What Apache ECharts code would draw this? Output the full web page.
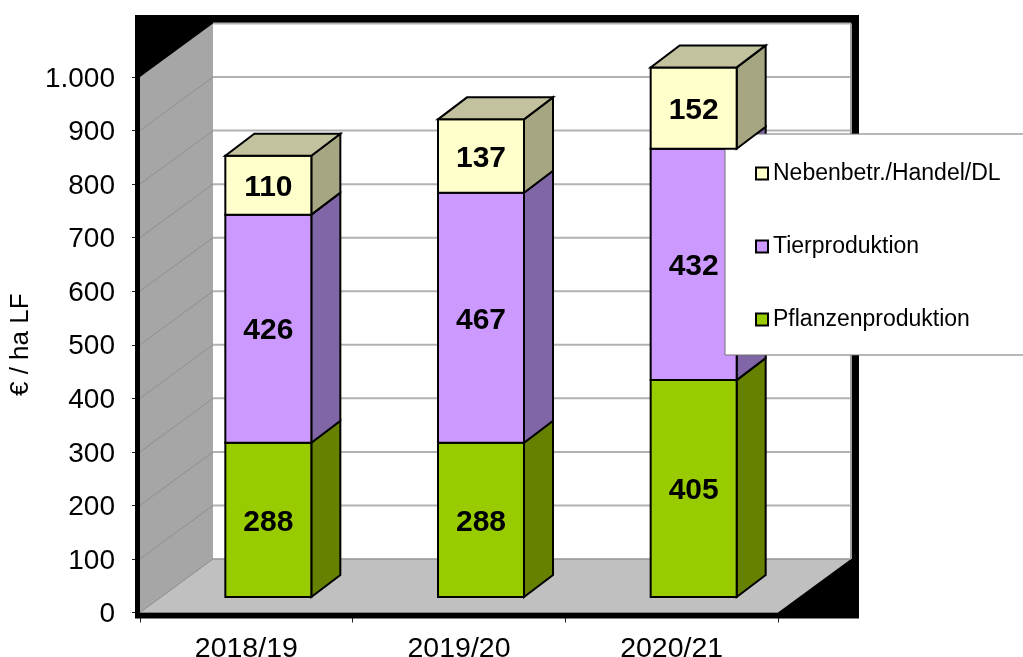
<!DOCTYPE html>
<html lang="de">
<head>
<meta charset="UTF-8">
<title>Umsatz je ha LF</title>
<script src="https://cdn.jsdelivr.net/npm/echarts@6/dist/echarts.min.js"></script>
<style>
    html, body { margin: 0; padding: 0; background: #fff; overflow: hidden; }
    #chart { width: 1023px; height: 657px; }
</style>
</head>
<body>
<div id="chart"></div>
<script type="text/javascript">
    let years = ['2018/19', '2019/20', '2020/21'];
    let pflanzen = [288, 288, 405];
    let tier = [426, 467, 432];
    let neben = [110, 137, 152];
    let yTicks = [100, 200, 300, 400, 500, 600, 700, 800, 900, 1000];

    let font = '"Liberation Sans", Arial, sans-serif';
    // Tiefe der 3D-Wand und der Saeulen in Pixeln
    let wallDx = 73, wallDy = -53.5;
    let barShiftX = 22, barShiftY = -15.5, barDx = 29, barDy = -22, barW = 86;

    function poly(points, fill, stroke, width) {
        return {
            type: 'polygon',
            shape: {points: points},
            style: {fill: fill, stroke: stroke || 'none', lineWidth: width || 0}
        };
    }

    function line(x1, y1, x2, y2, color, width) {
        return {
            type: 'line',
            shape: {x1: x1, y1: y1, x2: x2, y2: y2},
            style: {stroke: color, lineWidth: width, fill: 'none'}
        };
    }

    // Rueckwand, Seitenwand und Boden
    function renderWalls(params, api) {
        let c = params.coordSys;
        let l = c.x, r = c.x + c.width, t = c.y, b = c.y + c.height;
        let kids = [
            {type: 'rect', shape: {x: l - 5, y: t - 62, width: c.width + wallDx + 13, height: c.height + 68}, style: {fill: '#000'}},
            poly([[l + wallDx, t + wallDy], [r + wallDx, t + wallDy], [r + wallDx, b + wallDy], [l + wallDx, b + wallDy]], '#fff'),
            poly([[l, t], [l + wallDx, t + wallDy], [l + wallDx, b + wallDy], [l, b]], '#a6a6a6'),
            poly([[l, b], [l + wallDx, b + wallDy], [r + wallDx, b + wallDy], [r, b]], '#c0c0c0')
        ];
        yTicks.forEach(function (v) {
            let y = api.coord([0, v])[1];
            kids.push(line(l + wallDx, y + wallDy, r + wallDx, y + wallDy, '#b2b2b2', 2));
            if (v < 1000) {
                kids.push(line(l, y, l + wallDx, y + wallDy, '#8f8f8f', 1));
            }
        });
        kids.push(line(r + wallDx, t + wallDy, r + wallDx, b + wallDy, '#a0a0a0', 2));
        kids.push(line(l + wallDx, b + wallDy, r + wallDx, b + wallDy, '#969696', 1.5));
        kids.push(line(l, b, l + wallDx, b + wallDy, '#969696', 1));
        kids.push(line(l, b, r, b, '#808080', 1));
        return {type: 'group', children: kids};
    }

    function segment(front, side, top) {
        return function (params, api) {
            let p0 = api.coord([api.value(0), api.value(1)]);
            let p1 = api.coord([api.value(0), api.value(2)]);
            let x0 = p0[0] + barShiftX - barW / 2, x1 = x0 + barW;
            let y0 = p0[1] + barShiftY, y1 = p1[1] + barShiftY;
            let kids = [
                poly([[x1, y0], [x1 + barDx, y0 + barDy], [x1 + barDx, y1 + barDy], [x1, y1]], side, '#000', 2),
                poly([[x0, y0], [x1, y0], [x1, y1], [x0, y1]], front, '#000', 2)
            ];
            if (top) {
                kids.push(poly([[x0, y1], [x1, y1], [x1 + barDx, y1 + barDy], [x0 + barDx, y1 + barDy]], top, '#000', 2));
            }
            kids.push({
                type: 'text',
                style: {
                    x: (x0 + x1) / 2,
                    y: (y0 + y1) / 2 + 2.5,
                    text: String(api.value(2) - api.value(1)),
                    align: 'center',
                    verticalAlign: 'middle',
                    fill: '#000',
                    font: 'bold 30px ' + font
                }
            });
            return {type: 'group', children: kids};
        };
    }

    let seg1 = [], seg2 = [], seg3 = [];
    for (let i = 0; i < years.length; i++) {
        seg1.push([i, 0, pflanzen[i]]);
        seg2.push([i, pflanzen[i], pflanzen[i] + tier[i]]);
        seg3.push([i, pflanzen[i] + tier[i], pflanzen[i] + tier[i] + neben[i]]);
    }

    let chart = echarts.init(document.getElementById('chart'), null, {renderer: 'canvas'});
    chart.setOption({
        animation: false,
        backgroundColor: '#fff',
        grid: {left: 140, right: 245, top: 77, bottom: 44.5, outerBoundsMode: 'none'},
        legend: {
            orient: 'vertical',
            left: 725,
            top: 134,
            padding: [28, 60, 24, 30],
            itemWidth: 12,
            itemHeight: 12,
            itemGap: 50,
            backgroundColor: '#fff',
            borderColor: '#707070',
            borderWidth: 1,
            icon: 'rect',
            itemStyle: {borderColor: '#000', borderWidth: 2},
            textStyle: {fontFamily: font, fontSize: 23, color: '#000', padding: [0, 0, 0, 0]},
            data: ['Nebenbetr./Handel/DL', 'Tierproduktion', 'Pflanzenproduktion']
        },
        xAxis: {
            type: 'category',
            data: years,
            axisLine: {show: false},
            axisTick: {show: true, length: 10, lineStyle: {color: '#222', width: 1}},
            axisLabel: {fontFamily: font, fontSize: 28.5, color: '#000', margin: 22}
        },
        yAxis: {
            type: 'value',
            min: 0,
            max: 1000,
            interval: 100,
            name: '€ / ha LF',
            nameLocation: 'middle',
            nameGap: 104,
            nameTextStyle: {fontFamily: font, fontSize: 26, color: '#000'},
            splitLine: {show: false},
            axisLine: {show: false},
            axisTick: {show: true, length: 8, lineStyle: {color: '#222', width: 1}},
            axisLabel: {
                fontFamily: font,
                fontSize: 28,
                color: '#000',
                margin: 25,
                verticalAlign: 'top',
                padding: [-12, 0, 0, 0],
                formatter: function (v) {
                    return v === 1000 ? '1.000' : String(v);
                }
            }
        },
        series: [
            {type: 'custom', name: 'walls', z: 1, silent: true, renderItem: renderWalls, data: [[0, 0, 0]], encode: {x: 0, y: 1}},
            {type: 'custom', name: 'Pflanzenproduktion', z: 2, renderItem: segment('#99cc00', '#668000'), itemStyle: {color: '#99cc00'}, data: seg1, encode: {x: 0, y: [1, 2]}},
            {type: 'custom', name: 'Tierproduktion', z: 3, renderItem: segment('#cc99ff', '#8066a6'), itemStyle: {color: '#cc99ff'}, data: seg2, encode: {x: 0, y: [1, 2]}},
            {type: 'custom', name: 'Nebenbetr./Handel/DL', z: 4, renderItem: segment('#ffffcc', '#a6a682', '#c2c29e'), itemStyle: {color: '#ffffcc'}, data: seg3, encode: {x: 0, y: [1, 2]}}
        ]
    });
</script>
</body>
</html>
